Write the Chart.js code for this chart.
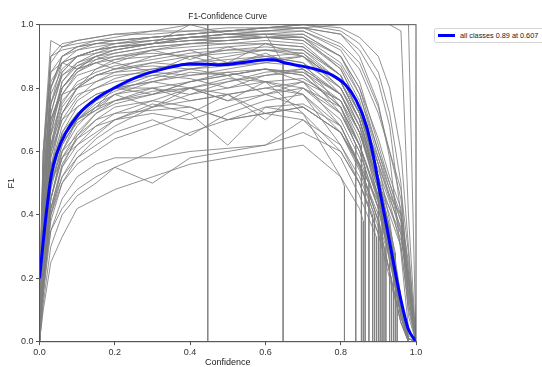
<!DOCTYPE html>
<html>
<head>
<meta charset="utf-8">
<script src="https://cdn.jsdelivr.net/npm/chart.js@4"></script>
<style>
  html, body { margin: 0; padding: 0; background: #fff; }
  #wrap { position: relative; width: 542px; height: 367px; }
  #legend {
    position: absolute; left: 434px; top: 28px; width: 112px; height: 13px;
    border: 1px solid #d6d6d6; border-radius: 2px; background: #fff;
    font: 7.3px "Liberation Sans", Arial, sans-serif; color: #222;
  }
  #legend .swatch { position: absolute; left: 3px; top: 5px; width: 17px; height: 3px; background: #0000ff; }
  #legend .label { position: absolute; left: 25px; top: 2px; white-space: nowrap; }
</style>
</head>
<body>
<div id="wrap">
  <canvas id="chart" width="542" height="367"></canvas>
  <div id="legend"><span class="swatch"></span><span class="label">all classes 0.89 at 0.607</span></div>
</div>
<script>

// confidence grid the per-class curves are sampled on
const confGrid = [0, 0.01, 0.03, 0.06, 0.1, 0.15, 0.2, 0.3, 0.4, 0.5, 0.6, 0.7, 0.8, 0.85, 0.9, 0.93, 0.96, 0.98, 1.0];

// F1 of each class at confGrid
const classF1 = [
    [0.05,0.45,0.80,0.90,0.93,0.94,0.95,0.96,0.97,0.98,0.99,1.0,1.0,1.0,1.0,1.0,0.98,0.4,0],
    [0.10,0.60,0.95,0.93,0.94,0.95,0.95,0.96,0.97,0.98,0.99,0.99,0.97,0.9,0.75,0.58,0.28,0.04,0],
    [0.02,0.30,0.65,0.82,0.88,0.91,0.93,0.95,0.96,0.97,0.98,0.98,0.92,0.82,0.62,0.5,0.38,0.18,0],
    [0.08,0.50,0.78,0.86,0.90,0.92,0.93,0.94,0.95,0.96,0.96,0.95,0.86,0.74,0.52,0.35,0.14,0.02,0],
    [0.00,0.25,0.55,0.72,0.80,0.86,0.89,0.92,0.94,0.95,0.96,0.96,0.9,0.8,0.6,0.48,0.35,0.15,0],
    [0.15,0.55,0.85,0.88,0.90,0.91,0.92,0.94,1.0,0.97,0.96,0.95,0.87,0.76,0.56,0.38,0.14,0.01,0],
    [0.05,0.40,0.70,0.80,0.85,0.88,0.86,0.90,0.92,0.88,0.94,0.9,0.82,0.7,0.48,0.3,0.1,0,0],
    [0.03,0.35,0.62,0.75,0.82,0.85,0.87,0.89,0.91,0.92,0.92,0.91,0.8,0.68,0.45,0.28,0.08,0,0],
    [0.02,0.30,0.55,0.68,0.76,0.80,0.83,0.86,0.88,0.89,0.90,0.88,0.8,0.7,0.5,0.3,0.1,0,0],
    [0.00,0.20,0.45,0.60,0.70,0.76,0.80,0.84,0.86,0.87,0.88,0.87,0.78,0.68,0.5,0.3,0.1,0,0],
    [0.05,0.35,0.60,0.70,0.74,0.78,0.80,0.82,0.85,0.84,0.86,0.85,0.76,0.62,0.45,0.3,0.1,0,0],
    [0.10,0.45,0.70,0.78,0.80,0.82,0.84,0.85,0.84,0.86,0.88,0.9,0.82,0.7,0.5,0.4,0.3,0.12,0],
    [0.00,0.15,0.40,0.55,0.65,0.72,0.76,0.80,0.82,0.84,0.86,0.84,0.74,0.62,0.45,0.3,0.08,0,0],
    [0.02,0.25,0.50,0.62,0.70,0.75,0.78,0.80,0.78,0.82,0.85,0.86,0.78,0.66,0.46,0.3,0.1,0,0],
    [0.05,0.30,0.52,0.63,0.69,0.73,0.76,0.79,0.80,0.78,0.80,0.82,0.76,0.64,0.48,0.3,0.1,0,0],
    [0.00,0.20,0.42,0.55,0.62,0.68,0.72,0.76,0.80,0.82,0.84,0.85,0.78,0.66,0.5,0.42,0.32,0.2,0],
    [0.00,0.15,0.35,0.42,0.48,0.52,0.55,0.50,0.58,0.60,0.62,0.7,0.62,0.52,0.4,0.3,0.1,0,0],
    [0.02,0.20,0.35,0.45,0.52,0.56,0.58,0.58,0.60,0.61,0.62,0.66,0.6,0.5,0.4,0.28,0.1,0,0],
    [0.00,0.18,0.38,0.50,0.56,0.60,0.64,0.68,0.72,0.62,0.74,0.75,0.68,0.55,0.38,0.3,0.1,0,0],
    [0.05,0.25,0.42,0.52,0.58,0.62,0.66,0.70,0.65,0.72,0.76,0.78,0.68,0.56,0.38,0.22,0.06,0,0],
    [0.00,0.20,0.45,0.58,0.64,0.68,0.70,0.74,0.76,0.78,0.70,0.8,0.74,0.62,0.45,0.3,0.1,0,0],
    [0.02,0.28,0.50,0.60,0.65,0.70,0.72,0.73,0.74,0.70,0.72,0.74,0.66,0.56,0.45,0.32,0.1,0,0],
    [0.00,0.22,0.48,0.62,0.70,0.74,0.76,0.78,0.80,0.76,0.78,0.74,0.66,0.56,0.44,0.3,0.1,0.01,0],
    [0.04,0.30,0.55,0.66,0.72,0.77,0.80,0.82,0.80,0.83,0.82,0.8,0.7,0.58,0.42,0.26,0.08,0,0],
    [0.10,0.50,0.80,0.88,0.90,0.92,0.94,0.95,0.96,0.97,0.98,0.99,1.0,1.0,1.0,1.0,1.0,1.0,0],
    [0.20,0.60,0.85,0.90,0.92,0.93,0.94,0.96,0.97,0.98,0.99,1.0,0.98,0.94,0.85,0.72,0.5,0.12,0],
    [0.05,0.40,0.72,0.85,0.90,0.92,0.93,0.94,0.95,0.95,0.96,0.97,0.9,0.78,0.58,0.46,0.34,0.14,0],
    [0.00,0.30,0.60,0.78,0.85,0.89,0.91,0.93,0.94,0.94,0.95,0.94,0.84,0.72,0.52,0.34,0.1,0,0],
    [0.05,0.45,0.75,0.84,0.87,0.89,0.90,0.91,0.90,0.92,0.93,0.92,0.84,0.72,0.54,0.44,0.3,0.1,0],
    [0.02,0.35,0.65,0.76,0.81,0.84,0.86,0.88,0.87,0.88,0.89,0.9,0.8,0.68,0.5,0.34,0.12,0,0],
    [0.05,0.50,0.80,0.90,0.93,0.95,0.96,0.98,1.0,1.0,1.0,1.0,1.0,1.0,1.0,1.0,1.0,1.0,1.0],
    [0.02,0.40,0.72,0.84,0.88,0.90,0.92,0.94,0.96,0.97,0.97,0.9,0.9,0.9,0.9,0.9,0.9,0.9,0.9],
    [0.00,0.20,0.45,0.60,0.68,0.74,0.78,0.82,0.84,0.85,0.82,0.72,0.52,0.5,0.5,0.5,0.5,0.5,0.5],
    [0.00,0.40,0.75,0.88,0.92,0.94,0.95,0.96,0.97,0.98,0.98,0.99,0.94,0.88,0.74,0.6,0.45,0.22,0],
    [0.12,0.50,0.70,0.80,0.86,0.90,0.91,0.93,0.94,0.95,0.96,0.96,0.86,0.74,0.56,0.45,0.36,0.2,0],
    [0.00,0.28,0.58,0.70,0.77,0.82,0.85,0.88,0.90,0.91,0.92,0.92,0.82,0.7,0.52,0.36,0.12,0.01,0],
    [0.06,0.38,0.62,0.72,0.78,0.80,0.82,0.84,0.83,0.80,0.84,0.86,0.78,0.66,0.48,0.32,0.1,0.01,0],
    [0.00,0.18,0.40,0.50,0.58,0.64,0.68,0.74,0.78,0.80,0.82,0.83,0.76,0.66,0.5,0.36,0.16,0.01,0],
    [0.03,0.32,0.60,0.74,0.80,0.84,0.86,0.87,0.86,0.84,0.86,0.84,0.74,0.62,0.46,0.32,0.14,0,0],
    [0.08,0.42,0.68,0.80,0.86,0.88,0.90,0.92,0.93,0.94,0.94,0.93,0.84,0.72,0.56,0.46,0.4,0.25,0],
    [0.00,0.25,0.52,0.65,0.72,0.76,0.79,0.83,0.86,0.88,0.90,0.91,0.82,0.72,0.58,0.48,0.38,0.16,0],
    [0.02,0.30,0.50,0.58,0.62,0.66,0.70,0.72,0.70,0.74,0.78,0.8,0.72,0.62,0.45,0.3,0.12,0,0],
    [0.05,0.55,0.90,0.92,0.93,0.94,0.94,0.95,0.96,0.97,0.97,0.98,0.93,0.86,0.72,0.6,0.48,0.28,0],
    [0.00,0.35,0.68,0.82,0.87,0.90,0.92,0.94,0.95,0.96,0.97,0.97,0.9,0.8,0.64,0.52,0.42,0.2,0],
    [0.00,0.10,0.25,0.33,0.42,0.45,0.48,0.52,0.56,0.58,0.60,0.62,0.52,0.42,0.3,0.15,0.05,0,0],
    [0.00,0.12,0.30,0.40,0.46,0.50,0.55,0.60,0.66,0.70,0.72,0.74,0.66,0.54,0.36,0.22,0.08,0,0],
    [0.03,0.30,0.55,0.65,0.70,0.73,0.78,0.74,0.80,0.76,0.82,0.78,0.62,0.5,0.34,0.2,0.06,0,0],
    [0.05,0.50,0.82,0.88,0.86,0.90,0.88,0.92,0.89,0.93,0.90,0.88,0.74,0.62,0.44,0.28,0.08,0,0],
    [0.00,0.30,0.62,0.78,0.84,0.86,0.88,0.85,0.90,0.87,0.91,0.86,0.72,0.6,0.42,0.26,0.08,0,0],
    [0.10,0.55,0.88,0.93,0.95,0.96,0.97,0.98,0.98,0.99,0.99,1.0,0.99,0.96,0.9,0.8,0.6,0.3,0],
    [0.00,0.20,0.50,0.66,0.74,0.78,0.80,0.80,0.76,0.78,0.72,0.70,0.58,0.46,0.36,0.22,0.06,0,0],
    [0.02,0.28,0.58,0.72,0.80,0.84,0.85,0.86,0.88,0.90,0.92,0.90,0.78,0.66,0.48,0.32,0.12,0.01,0],
    [0.00,0.22,0.45,0.58,0.66,0.72,0.75,0.78,0.82,0.85,0.86,0.82,0.68,0.56,0.38,0.22,0.06,0,0],
    [0.06,0.45,0.75,0.85,0.90,0.92,0.93,0.94,0.96,0.96,0.97,0.96,0.88,0.78,0.6,0.5,0.4,0.22,0],
    [0.00,0.15,0.40,0.52,0.60,0.65,0.70,0.75,0.72,0.78,0.80,0.78,0.66,0.55,0.4,0.32,0.12,0.01,0],
    [0.04,0.35,0.66,0.80,0.86,0.88,0.89,0.90,0.92,0.93,0.94,0.93,0.84,0.72,0.52,0.42,0.34,0.18,0],
    [0.00,0.26,0.52,0.64,0.70,0.74,0.80,0.78,0.82,0.84,0.78,0.82,0.72,0.6,0.42,0.28,0.08,0,0],
    [0.08,0.60,0.90,0.94,0.95,0.96,0.97,0.97,0.98,0.98,0.99,0.99,0.97,0.92,0.82,0.68,0.4,0.08,0],
    [0.00,0.18,0.42,0.56,0.64,0.70,0.74,0.76,0.74,0.70,0.74,0.72,0.6,0.5,0.34,0.26,0.08,0,0]
];

// confidence where a class curve falls straight to zero, and its F1 just before (null = none)
const dropConf = [null,null,null,null,null,null,null,null,0.91,0.9,0.865,null,0.84,null,0.855,null,0.89,0.885,0.92,null,0.93,0.875,null,null,null,null,null,null,null,null,0.447,0.647,0.81,null,null,null,null,0.945,0.94,null,null,0.95,null,null,0.86,0.935,null,null,null,null,0.895,null,null,null,0.905,null,null,null,0.915];
const dropF1   = [null,null,null,null,null,null,null,null,0.42,0.5,0.55,null,0.62,null,0.62,null,0.4,0.4,0.3,null,0.25,0.5,null,null,null,null,null,null,null,null,1.0,0.88,0.49,null,null,null,null,0.28,0.25,null,null,0.2,null,null,0.38,0.2,null,null,null,null,0.33,null,null,null,0.36,null,null,null,0.28];

// mean curve over all classes
const meanConf = [0, 0.018, 0.032, 0.046, 0.069, 0.106, 0.152, 0.198, 0.262, 0.335, 0.40, 0.446, 0.473, 0.538, 0.602, 0.62, 0.657, 0.694, 0.74, 0.777, 0.813, 0.841, 0.869, 0.887, 0.905, 0.924, 0.942, 0.96, 0.979, 1.0];
const meanF1   = [0.20, 0.405, 0.53, 0.594, 0.657, 0.72, 0.768, 0.80, 0.836, 0.862, 0.876, 0.875, 0.873, 0.88, 0.889, 0.889, 0.878, 0.87, 0.857, 0.841, 0.81, 0.762, 0.678, 0.584, 0.468, 0.352, 0.237, 0.131, 0.042, 0.0];

const axisTicks = [0, 0.2, 0.4, 0.6, 0.8, 1.0];


function classPoints(i){
    let pts = [];
    let cut = dropConf[i] === undefined ? null : dropConf[i];
    for(let k=0; k<confGrid.length; k++){
        if(cut !== null && confGrid[k] >= cut) break;
        pts.push({x: confGrid[k], y: classF1[i][k]});
    }
    if(cut !== null){
        pts.push({x: cut, y: dropF1[i]});
        pts.push({x: cut, y: 0});
        pts.push({x: 1, y: 0});
    }
    return pts
}


let datasets = [{
    data: meanConf.map((c, i) => ({x: c, y: meanF1[i]})),
    borderColor: '#0000ff',
    borderWidth: 3,
    pointRadius: 0,
    cubicInterpolationMode: 'monotone',
    order: 0
}];

for(let i=0; i<classF1.length; i++){
    datasets.push({
        data: classPoints(i),
        borderColor: 'rgba(128,128,128,0.85)',
        borderWidth: 1,
        pointRadius: 0,
        tension: 0,
        order: 1
    });
}


const frame = {
    id: 'frame',
    afterDraw(chart){
        const a = chart.chartArea;
        const ctx = chart.ctx;
        ctx.save();
        ctx.strokeStyle = '#555';
        ctx.lineWidth = 1;
        ctx.strokeRect(a.left, a.top, a.right - a.left, a.bottom - a.top);
        ctx.restore();
    }
};

const fontFam = '"Liberation Sans", Arial, sans-serif';

function axis(title, isX){
    return {
        type: 'linear',
        min: 0,
        max: 1,
        afterBuildTicks: s => { s.ticks = axisTicks.map(v => ({value: v})); },
        afterFit: s => { if(isX) s.height = 25.3; else s.width = 39.5; },
        ticks: {
            callback: v => v.toFixed(1),
            color: '#333',
            padding: isX ? 1.5 : 2.5,
            font: {family: fontFam, size: 9}
        },
        grid: {drawOnChartArea: false, drawTicks: true, tickLength: 3.5, color: '#555'},
        border: {display: true, color: '#555'},
        title: {
            display: true,
            text: title,
            color: '#222',
            font: {family: fontFam, size: 9, lineHeight: 1},
            padding: isX ? {top: 0, bottom: 0} : {top: 7.5, bottom: 0}
        }
    }
}

new Chart(document.getElementById('chart'), {
    type: 'line',
    data: {datasets: datasets},
    options: {
        responsive: false,
        animation: false,
        layout: {padding: {left: 0, right: 126, top: 0, bottom: 0}},
        plugins: {
            legend: {display: false},
            tooltip: {enabled: false},
            title: {
                display: true,
                text: 'F1-Confidence Curve',
                fullSize: false,
                color: '#222',
                font: {family: fontFam, size: 8.3, weight: 'normal', lineHeight: 1.2},
                padding: {top: 11.7, bottom: 3}
            }
        },
        scales: {
            x: axis('Confidence', true),
            y: axis('F1', false)
        }
    },
    plugins: [frame]
});

</script>
</body>
</html>
